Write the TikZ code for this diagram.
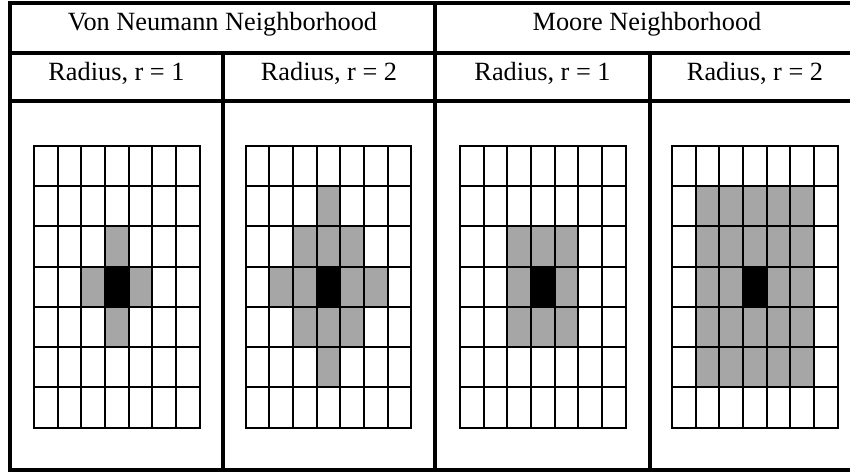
\documentclass[tikz,border=0pt]{standalone}
\usepackage{fontspec}
\setmainfont{Liberation Serif}
\definecolor{cellgray}{RGB}{166,166,166}
\newcommand\cagrid[2]{%
  \begin{scope}[shift={(#1,145.7)}]
    \foreach \c/\r in {#2}
      \fill[cellgray] (\c*23.643,\r*40.286) rectangle ++(23.643,40.286);
    \fill[black] (3*23.643,3*40.286) rectangle ++(23.643,40.286);
    \foreach \i in {1,...,6} {
      \draw[gline] (\i*23.643,0) -- (\i*23.643,282);
      \draw[gline] (0,\i*40.286) -- (165.5,\i*40.286);
    }
    \draw[gline] (0,0) rectangle (165.5,282);
  \end{scope}}
\begin{document}
\begin{tikzpicture}[x=1pt,y=-1pt,
  tline/.style={line width=4pt},
  gline/.style={line width=2pt},
  hdr/.style={font=\fontsize{26.3}{30}\selectfont, anchor=base, inner sep=0pt}]
\useasboundingbox (0,0) rectangle (850,473);
% table rules
\draw[tline] (860,3.5) -- (10,3.5) -- (10,470) -- (860,470);
\draw[tline] (8,52.7) -- (860,52.7);
\draw[tline] (8,101) -- (860,101);
\draw[tline] (435,3.5) -- (435,470);
\draw[tline] (223,52.7) -- (223,470);
\draw[tline] (650,52.7) -- (650,470);
% header texts
\node[hdr] (vn) at (222.5,31) {Von Neumann Neighborhood};
\node[hdr] (mo) at (647,31) {Moore Neighborhood};
\node[hdr] (ra) at (116.5,81) {Radius, r = 1};
\node[hdr] (rb) at (329,81) {Radius, r = 2};
\node[hdr] (rc) at (542.5,81) {Radius, r = 1};
\node[hdr] (rd) at (755,81) {Radius, r = 2};
% grids
\cagrid{34}{3/2,2/3,4/3,3/4}
\cagrid{245.7}{3/1,2/2,3/2,4/2,1/3,2/3,4/3,5/3,2/4,3/4,4/4,3/5}
\cagrid{460}{2/2,3/2,4/2,2/3,4/3,2/4,3/4,4/4}
\cagrid{672}{1/1,2/1,3/1,4/1,5/1,1/2,2/2,3/2,4/2,5/2,1/3,2/3,4/3,5/3,1/4,2/4,3/4,4/4,5/4,1/5,2/5,3/5,4/5,5/5}
\end{tikzpicture}
\end{document}
